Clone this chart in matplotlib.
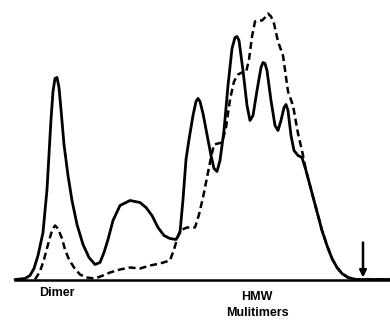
import numpy as np
import matplotlib.pyplot as plt

# elution position (arbitrary units) and absorbance (arbitrary units)
solid_x = [15, 25, 30, 34, 38, 43, 47, 51, 53, 55, 57, 59, 61, 64, 68, 72, 77, 83, 89, 95,
           100, 104, 108, 113, 120, 130, 140, 146, 152, 158, 164, 170, 176, 180, 183,
           186, 189, 193, 196, 198, 200, 203, 207, 211, 214, 217, 220, 224, 228, 232, 235,
           237, 239, 243, 247, 250, 253, 257, 261, 263, 265, 267, 271, 275, 278, 281, 284,
           286, 288, 291, 294, 298, 302, 306, 310, 314, 318, 322, 327, 332, 337, 342, 348,
           356, 390]
solid_y = [0, 1, 4, 11, 24, 47, 90, 160, 188, 201, 202, 192, 170, 135, 104, 79, 55, 35, 22, 15,
           17, 27, 40, 59, 74, 79, 77, 72, 64, 52, 44, 41, 40, 47, 80,
           120, 140, 164, 178, 181, 178, 166, 145, 124, 111, 108, 119, 149, 194, 231, 242,
           243, 239, 209, 174, 159, 164, 189, 212, 217, 216, 209, 179, 154, 149, 159, 172,
           175, 169, 144, 129, 124, 122, 109, 94, 79, 64, 49, 34, 21, 12, 6, 2,
           0, 0]

dash_x = [35, 40, 44, 48, 52, 55, 58, 62, 65, 69, 74, 80, 86, 95, 103, 110, 120, 130,
          140, 150, 160, 170, 174, 177, 180, 187, 195, 199, 203, 207, 211, 214, 218, 222,
          226, 230, 234, 238, 242, 246, 249, 252, 255, 258, 262, 265, 268, 271, 274, 278,
          283, 288, 293, 298, 302, 306, 310, 314, 318, 322, 327, 332, 337, 342, 348, 356, 390]
dash_y = [0, 8, 20, 35, 49, 54, 51, 41, 30, 20, 12, 5, 2, 1, 4, 7, 10, 12,
          11, 14, 16, 19, 30, 40, 49, 52, 52, 65, 82, 102, 122, 135, 136, 137,
          152, 180, 198, 205, 207, 207, 220, 243, 258, 259, 259, 262, 266, 263, 256, 238,
          224, 188, 174, 146, 129, 109, 94, 79, 64, 49, 34, 21, 12, 6, 2, 0, 0]

baseline_x = [15, 390]
arrow_x = 363

fig = plt.figure(figsize=(3.9, 3.22), dpi=100)
ax = fig.add_axes([0, 0, 1, 1])

ax.plot(solid_x, solid_y, color='black', lw=2.0, solid_joinstyle='round',
        solid_capstyle='round')
ax.plot(dash_x, dash_y, color='black', lw=1.8, linestyle=(0, (2.8, 1.6)),
        dash_joinstyle='round')
ax.plot(baseline_x, [0, 0], color='black', lw=1.8)

ax.annotate('', xy=(arrow_x, 2), xytext=(arrow_x, 37),
            arrowprops=dict(arrowstyle='-|>', color='black', lw=1.8,
                            mutation_scale=10, shrinkA=0, shrinkB=0))

ax.text(57, -14, 'Dimer', ha='center', va='center', fontsize=9,
        family='Liberation Sans', weight='bold')
ax.text(257, -18, 'HMW', ha='center', va='center', fontsize=9,
        family='Liberation Sans', weight='bold')
ax.text(257, -33, 'Mulitimers', ha='center', va='center', fontsize=9,
        family='Liberation Sans', weight='bold')

ax.set_xlim(0, 390)
ax.set_ylim(-42.5, 279.5)
ax.axis('off')

fig.savefig('out.png', dpi=100)
